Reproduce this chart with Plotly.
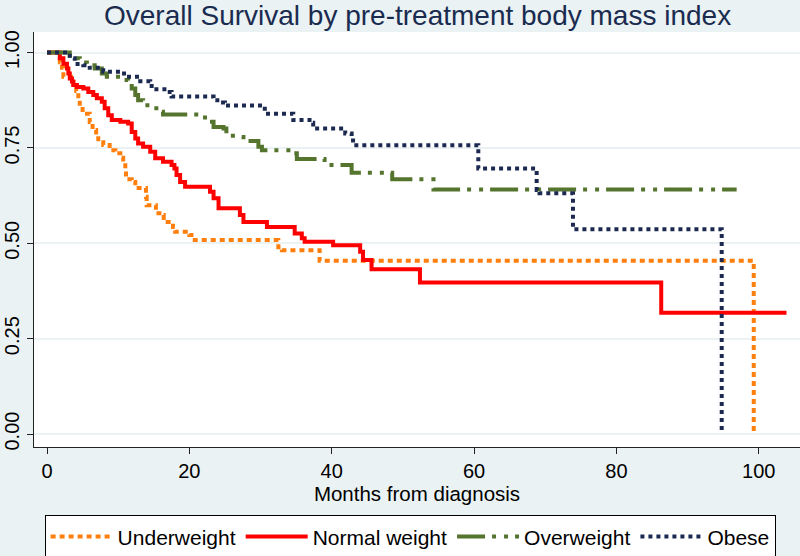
import plotly.graph_objects as go

# ---- data ----
under_t = [0, 1.8, 2.1, 2.3, 3.7, 4.1, 4.4, 4.6, 5.0, 6.0, 6.4, 6.9, 7.2, 7.9, 8.8, 9.6, 10.3, 10.7,
           11.0, 11.1, 11.9, 12.4, 13.9, 14.0, 15.3, 16.2, 16.4, 17.7, 18.0, 20.0, 20.3, 32.5, 33.0,
           38.3, 99.3]
under_s = [1.0, 0.975, 0.96, 0.937, 0.915, 0.899, 0.88, 0.858, 0.84, 0.818, 0.797, 0.782, 0.765,
           0.758, 0.744, 0.736, 0.724, 0.71, 0.688, 0.668, 0.661, 0.645, 0.622, 0.60, 0.579, 0.574,
           0.556, 0.543, 0.53, 0.522, 0.509, 0.49, 0.482, 0.454, 0.0]

normal_t = [0, 1.8, 2.3, 2.8, 3.0, 3.2, 3.5, 3.7, 4.2, 5.1, 5.8, 6.5, 7.0, 7.7, 8.1, 8.6, 9.1, 10.3,
            11.4, 11.9, 12.4, 12.8, 13.5, 14.5, 15.2, 16.3, 17.5, 17.9, 18.2, 18.7, 19.4, 22.9, 23.4,
            24.1, 27.1, 27.6, 30.9, 34.8, 35.8, 36.2, 40.2, 44.0, 44.4, 45.6, 52.4, 86.3, 103.9]
normal_s = [1.0, 0.985, 0.971, 0.958, 0.945, 0.932, 0.924, 0.915, 0.91, 0.906, 0.897, 0.889, 0.88,
            0.871, 0.854, 0.836, 0.823, 0.819, 0.814, 0.792, 0.775, 0.762, 0.753, 0.74, 0.723, 0.714,
            0.705, 0.696, 0.679, 0.661, 0.648, 0.635, 0.618, 0.592, 0.574, 0.556, 0.543, 0.526,
            0.513, 0.504, 0.495, 0.478, 0.456, 0.432, 0.397, 0.318, 0.318]

over_t = [0, 2.5, 3.2, 4.6, 5.6, 6.7, 7.7, 8.4, 10.3, 11.4, 11.9, 12.4, 12.8, 13.5, 14.7, 15.9, 16.3,
          22.2, 23.4, 24.8, 25.2, 26.6, 27.6, 29.7, 30.2, 34.4, 35.1, 39.0, 42.8, 48.5, 54.3, 96.9]
over_s = [1.0, 1.0, 0.985, 0.974, 0.967, 0.958, 0.945, 0.937, 0.928, 0.919, 0.906, 0.889, 0.875,
          0.862, 0.854, 0.845, 0.838, 0.819, 0.805, 0.801, 0.782, 0.779, 0.768, 0.753, 0.744, 0.736,
          0.721, 0.705, 0.685, 0.668, 0.641, 0.641]

obese_t = [0, 2.5, 3.2, 3.9, 5.1, 6.0, 7.9, 10.5, 11.2, 13.1, 14.5, 14.7, 16.8, 17.5, 23.4, 24.3,
           25.0, 30.6, 34.6, 37.2, 37.4, 41.9, 42.8, 43.0, 60.6, 68.8, 69.2, 73.9, 94.8]
obese_s = [1.0, 1.0, 0.985, 0.97, 0.967, 0.96, 0.95, 0.945, 0.937, 0.925, 0.922, 0.904, 0.897,
           0.885, 0.875, 0.869, 0.861, 0.84, 0.823, 0.816, 0.801, 0.788, 0.778, 0.757, 0.696, 0.64,
           0.631, 0.537, 0.0]

group_names = ["Underweight", "Normal weight", "Overweight", "Obese"]
y_tick_vals = [0, 0.25, 0.5, 0.75, 1.0]
y_tick_text = ["0.00", "0.25", "0.50", "0.75", "1.00"]
x_tick_vals = [0, 20, 40, 60, 80, 100]

BG = "#EAF2F3"
FONT = "Liberation Sans, Arial, sans-serif"

series = [
    (under_t, under_s, dict(color="#FF7F0E", width=4, dash="5px,4px")),
    (normal_t, normal_s, dict(color="#FF0000", width=4, dash="solid")),
    (over_t, over_s, dict(color="#55752F", width=4, dash="28px,7px,4px,8px,4px,7px")),
    (obese_t, obese_s, dict(color="#1C2A52", width=4, dash="4px,4px")),
]

fig = go.Figure()
for name, (t, s, ln) in zip(group_names, series):
    fig.add_trace(go.Scatter(x=t, y=s, mode="lines", name=name, line=dict(shape="hv", **ln)))

fig.update_layout(
    width=800, height=556,
    paper_bgcolor=BG, plot_bgcolor="white",
    margin=dict(l=34, r=0, t=32, b=109, autoexpand=False),
    font=dict(family=FONT, color="black"),
    title=dict(text="Overall Survival by pre-treatment body mass index",
               font=dict(size=28, color="#1A2B50", family=FONT),
               x=0.522, xanchor="center", y=0.973, yanchor="middle"),
    showlegend=True,
    legend=dict(orientation="h", x=0.491, xanchor="center", y=-0.165, yanchor="top",
                bgcolor="white", bordercolor="black", borderwidth=1,
                font=dict(size=21, family=FONT, color="black"),
                itemwidth=62),
)
fig.update_xaxes(range=[-1.83, 105.8], tickvals=x_tick_vals, showgrid=False, zeroline=False,
                 automargin=False,
                 showline=True, linecolor="#222222", linewidth=1,
                 ticks="outside", ticklen=6, tickcolor="#222222",
                 tickfont=dict(size=20),
                 title=dict(text="Months from diagnosis", font=dict(size=20.5), standoff=5))
fig.update_yaxes(range=[-0.034, 1.054], tickvals=y_tick_vals, ticktext=y_tick_text,
                 automargin=False,
                 tickangle=-90, showgrid=True, gridcolor=BG, gridwidth=1.5,
                 zeroline=False, showline=True, linecolor="#222222", linewidth=1,
                 ticks="outside", ticklen=6, tickcolor="#222222", tickfont=dict(size=20))

fig.write_html("out.html", config={"displayModeBar": False},
               post_script="document.body.style.margin='0';document.body.style.overflow='hidden';")
